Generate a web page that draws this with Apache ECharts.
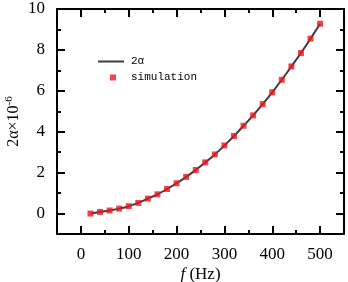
<!DOCTYPE html>
<html>
<head>
<meta charset="utf-8">
<script src="https://cdn.jsdelivr.net/npm/echarts@6/dist/echarts.min.js"></script>
<style>
  html, body { margin: 0; padding: 0; background: #ffffff; }
  #chart { width: 348px; height: 282px; }
</style>
</head>
<body>
<div id="chart"></div>
<script>
// frequency (Hz) of each simulated point
const freq = [20, 40, 60, 80, 100, 120, 140, 160, 180, 200, 220, 240, 260,
  280, 300, 320, 340, 360, 380, 400, 420, 440, 460, 480, 500];
// 2α ×10^-6, simulation points
const simValues = [0, 0.08, 0.15, 0.24, 0.36, 0.52, 0.73, 0.94, 1.2, 1.48, 1.79, 2.13, 2.5,
  2.89, 3.33, 3.79, 4.29, 4.8, 5.35, 5.93, 6.54, 7.19, 7.85, 8.55, 9.28];
// 2α ×10^-6, analytic curve
const curveValues = [0, 0.08, 0.15, 0.24, 0.36, 0.52, 0.73, 0.94, 1.2, 1.48, 1.79, 2.13, 2.5,
  2.89, 3.33, 3.79, 4.29, 4.8, 5.35, 5.93, 6.54, 7.19, 7.85, 8.55, 9.28];

const xMajor = [0, 100, 200, 300, 400, 500];
const xMinor = [50, 150, 250, 350, 450];
const yMajor = [0, 2, 4, 6, 8, 10];
const yMinor = [1, 3, 5, 7, 9];

const SERIF = '"Liberation Serif", "DejaVu Serif", serif';
const MONO = '"Liberation Mono", "DejaVu Sans Mono", monospace';
const RED = '#e8161e';
const LINE = '#3c3c3c';

function xAxisDef(position, ticks, len, showLabel, showLine) {
  return {
    type: 'value', position: position, min: -50, max: 550, interval: 50,
    axisLine: { show: showLine, onZero: false, lineStyle: { color: '#000', width: 2 } },
    axisTick: { show: true, inside: true, length: len, customValues: ticks, lineStyle: { color: '#000', width: 2 } },
    axisLabel: showLabel
      ? { show: true, customValues: ticks, margin: 12, fontFamily: SERIF, fontSize: 17, color: '#000' }
      : { show: false },
    splitLine: { show: false }
  };
}

function yAxisDef(position, ticks, len, showLabel, showLine) {
  return {
    type: 'value', position: position, min: -1, max: 10, interval: 1,
    axisLine: { show: showLine, onZero: false, lineStyle: { color: '#000', width: 2 } },
    axisTick: { show: true, inside: true, length: len, customValues: ticks, lineStyle: { color: '#000', width: 2 } },
    axisLabel: showLabel
      ? { show: true, customValues: ticks, margin: 12, fontFamily: SERIF, fontSize: 17, color: '#000' }
      : { show: false },
    splitLine: { show: false }
  };
}

const xBottom = xAxisDef('bottom', xMajor, 8, true, true);
xBottom.name = '{i|f} (Hz)';
xBottom.nameLocation = 'middle';
xBottom.nameGap = 32;
xBottom.nameMoveOverlap = false;
xBottom.nameTextStyle = {
  fontFamily: SERIF, fontSize: 17, color: '#000',
  rich: { i: { fontFamily: SERIF, fontSize: 17, fontStyle: 'italic', color: '#000' } }
};

const yLeft = yAxisDef('left', yMajor, 8, true, true);
yLeft.name = '2α×10{sup|-6}';
yLeft.nameLocation = 'middle';
yLeft.nameGap = 34;
yLeft.nameMoveOverlap = false;
yLeft.nameTextStyle = {
  fontFamily: SERIF, fontSize: 16, color: '#000',
  rich: { sup: { fontFamily: SERIF, fontSize: 11, verticalAlign: 'top', padding: [0, 0, 8, 0], color: '#000' } }
};

const chart = echarts.init(document.getElementById('chart'));
chart.setOption({
  animation: false,
  backgroundColor: '#ffffff',
  grid: { left: 57, right: 4, top: 9, bottom: 48, outerBoundsMode: 'none', containLabel: false },
  legend: [
    {
      data: ['2α'], left: 93, top: 51, orient: 'vertical',
      icon: 'rect', itemWidth: 26, itemHeight: 2,
      textStyle: { fontFamily: MONO, fontSize: 11, color: '#000', padding: [0, 0, 0, 2] }
    },
    {
      data: ['simulation'], left: 105, top: 67, orient: 'vertical',
      itemWidth: 6, itemHeight: 6, icon: 'rect',
      textStyle: { fontFamily: MONO, fontSize: 11, color: '#000', padding: [0, 0, 0, 10] }
    }
  ],
  xAxis: [
    xBottom,
    xAxisDef('bottom', xMinor, 4, false, false),
    xAxisDef('top', xMajor, 8, false, true),
    xAxisDef('top', xMinor, 4, false, false)
  ],
  yAxis: [
    yLeft,
    yAxisDef('left', yMinor, 4, false, false),
    yAxisDef('right', yMajor, 8, false, true),
    yAxisDef('right', yMinor, 4, false, false)
  ],
  series: [
    {
      name: '2α',
      type: 'line',
      xAxisIndex: 0,
      yAxisIndex: 0,
      data: freq.map((f, i) => [f, curveValues[i]]),
      symbol: 'none',
      smooth: true,
      lineStyle: { color: LINE, width: 2 },
      itemStyle: { color: LINE },
      z: 2
    },
    {
      name: 'simulation',
      type: 'scatter',
      xAxisIndex: 0,
      yAxisIndex: 0,
      data: freq.map((f, i) => [f, simValues[i]]),
      symbol: 'rect',
      symbolSize: 6,
      itemStyle: { color: RED },
      z: 3
    }
  ]
});
</script>
</body>
</html>
